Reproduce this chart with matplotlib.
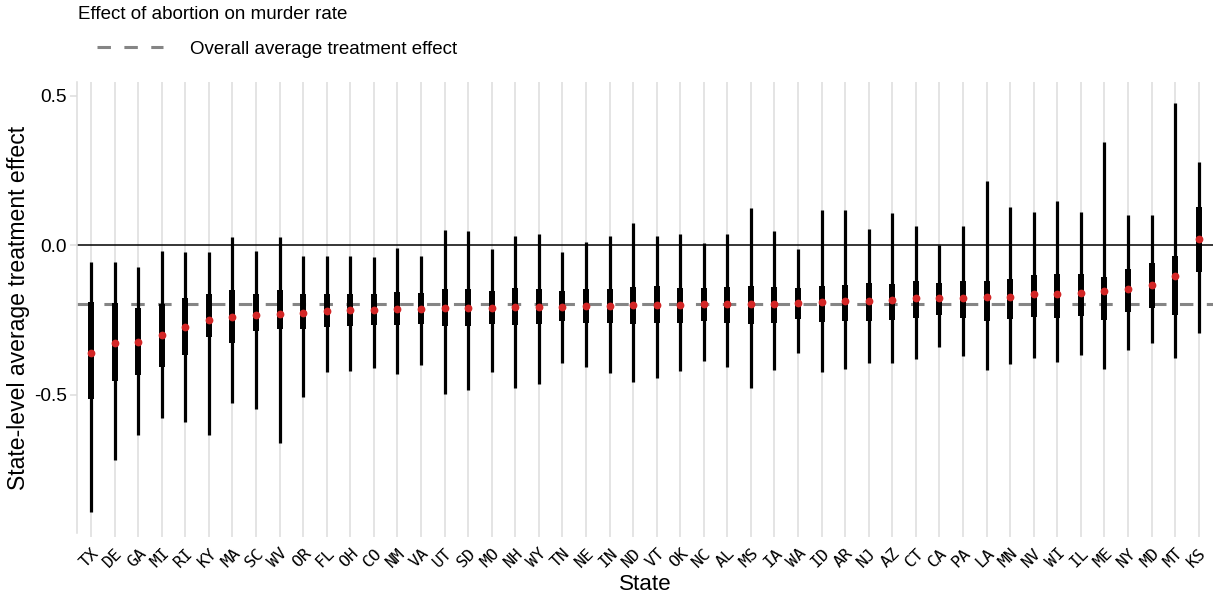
import matplotlib
matplotlib.use("Agg")
import matplotlib.pyplot as plt
from matplotlib.lines import Line2D


STATES = [
    "TX", "DE", "GA", "MI", "RI", "KY", "MA", "SC", "WV", "OR", "FL", "OH",
    "CO", "NM", "VA", "UT", "SD", "MO", "NH", "WY", "TN", "NE", "IN", "ND",
    "VT", "OK", "NC", "AL", "MS", "IA", "WA", "ID", "AR", "NJ", "AZ", "CT",
    "CA", "PA", "LA", "MN", "NV", "WI", "IL", "ME", "NY", "MD", "MT", "KS",
]

MEDIAN = [
    -0.360, -0.327, -0.325, -0.299, -0.275, -0.251, -0.240, -0.233, -0.231, -0.228, -0.220, -0.217,
    -0.217, -0.213, -0.213, -0.211, -0.210, -0.210, -0.208, -0.207, -0.206, -0.203, -0.203, -0.201,
    -0.200, -0.200, -0.197, -0.197, -0.197, -0.196, -0.193, -0.190, -0.187, -0.187, -0.183, -0.178,
    -0.178, -0.177, -0.174, -0.174, -0.163, -0.162, -0.159, -0.154, -0.146, -0.133, -0.105, 0.019,
]

INNER_LO = [
    -0.515, -0.454, -0.435, -0.406, -0.368, -0.307, -0.329, -0.288, -0.281, -0.281, -0.273, -0.269,
    -0.268, -0.268, -0.263, -0.271, -0.270, -0.263, -0.268, -0.264, -0.253, -0.262, -0.262, -0.264,
    -0.260, -0.260, -0.254, -0.259, -0.265, -0.259, -0.246, -0.256, -0.255, -0.253, -0.251, -0.245,
    -0.233, -0.243, -0.253, -0.247, -0.240, -0.243, -0.236, -0.250, -0.223, -0.211, -0.235, -0.089,
]

INNER_HI = [
    -0.190, -0.192, -0.210, -0.197, -0.176, -0.164, -0.150, -0.162, -0.150, -0.162, -0.162, -0.162,
    -0.162, -0.156, -0.160, -0.148, -0.147, -0.154, -0.143, -0.147, -0.153, -0.147, -0.147, -0.141,
    -0.137, -0.143, -0.144, -0.141, -0.137, -0.139, -0.144, -0.136, -0.134, -0.128, -0.130, -0.120,
    -0.126, -0.120, -0.121, -0.114, -0.099, -0.097, -0.097, -0.108, -0.079, -0.061, -0.037, 0.127,
]

OUTER_LO = [
    -0.892, -0.719, -0.635, -0.578, -0.591, -0.635, -0.529, -0.548, -0.661, -0.508, -0.426, -0.420,
    -0.412, -0.431, -0.401, -0.499, -0.485, -0.425, -0.479, -0.466, -0.394, -0.409, -0.427, -0.458,
    -0.444, -0.422, -0.387, -0.407, -0.479, -0.416, -0.361, -0.425, -0.415, -0.395, -0.394, -0.382,
    -0.340, -0.372, -0.419, -0.396, -0.377, -0.390, -0.366, -0.415, -0.350, -0.327, -0.379, -0.294,
]

OUTER_HI = [
    -0.056, -0.058, -0.073, -0.019, -0.022, -0.024, 0.026, -0.019, 0.026, -0.036, -0.036, -0.037,
    -0.040, -0.011, -0.037, 0.052, 0.047, -0.014, 0.030, 0.036, -0.022, 0.011, 0.030, 0.074,
    0.031, 0.037, 0.008, 0.037, 0.124, 0.046, -0.014, 0.117, 0.117, 0.054, 0.108, 0.065,
    0.001, 0.064, 0.214, 0.127, 0.109, 0.147, 0.111, 0.343, 0.100, 0.099, 0.476, 0.277,
]

OVERALL_ATE = -0.196

GRID_COLOR = "#dcdcdc"
DASH_COLOR = "#858585"
POINT_COLOR = "#d32626"


def main() -> None:
    plt.rcParams["font.family"] = ["Liberation Sans", "DejaVu Sans"]

    fig = plt.figure(figsize=(12.14, 5.99), dpi=100)
    ax = fig.add_axes([0.0634, 0.110, 0.9356, 0.753])

    x = list(range(len(STATES)))

    ax.axhline(0, color="black", linewidth=1.1, zorder=1)
    ax.axhline(OVERALL_ATE, color=DASH_COLOR, linewidth=2.2, dashes=(4.4, 4.4), zorder=2)

    ax.vlines(x, OUTER_LO, OUTER_HI, colors="black", linewidth=2.3, capstyle="butt", zorder=3)
    ax.vlines(x, INNER_LO, INNER_HI, colors="black", linewidth=4.3, capstyle="butt", zorder=4)
    ax.plot(x, MEDIAN, "o", color=POINT_COLOR, markersize=5.6, markeredgewidth=0, zorder=5)

    ax.set_xlim(-0.6, len(STATES) - 0.4)
    ax.set_ylim(-0.963, 0.545)

    ax.set_xticks(x)
    ax.set_xticklabels(STATES, rotation=45, ha="right", va="top", rotation_mode="anchor",
                       family="DejaVu Sans Mono", fontsize=11.8)
    ax.set_yticks([-0.5, 0.0, 0.5])
    ax.set_yticklabels(["-0.5", "0.0", "0.5"], fontsize=13.8)

    ax.grid(axis="x", color=GRID_COLOR, linewidth=1.1, zorder=0)
    ax.set_axisbelow(True)
    for side in ["top", "right", "bottom"]:
        ax.spines[side].set_visible(False)
    ax.spines["left"].set_color(GRID_COLOR)
    ax.spines["left"].set_linewidth(1.1)
    ax.tick_params(axis="x", length=3, color=GRID_COLOR, width=1.1, pad=6)
    ax.tick_params(axis="y", length=5, color=GRID_COLOR, width=1.1, pad=2)

    ax.set_xlabel("State", fontsize=16.2, labelpad=3)
    ax.set_ylabel("State-level average treatment effect", fontsize=16.6, labelpad=3)

    fig.text(78 / 1214, 1 - 14.5 / 599, "Effect of abortion on murder rate",
             fontsize=13.5, ha="left", va="center")
    handle = Line2D([], [], color=DASH_COLOR, linewidth=2.2, dashes=(4.4, 4.4))
    fig.legend([handle], ["Overall average treatment effect"], loc="center left",
               bbox_to_anchor=(97 / 1214, 1 - 49 / 599), frameon=False, fontsize=13.5,
               handlelength=3.5, handletextpad=1.45, borderpad=0, borderaxespad=0)

    fig.savefig("out.png", dpi=100)
    plt.close(fig)


if __name__ == "__main__":
    main()
